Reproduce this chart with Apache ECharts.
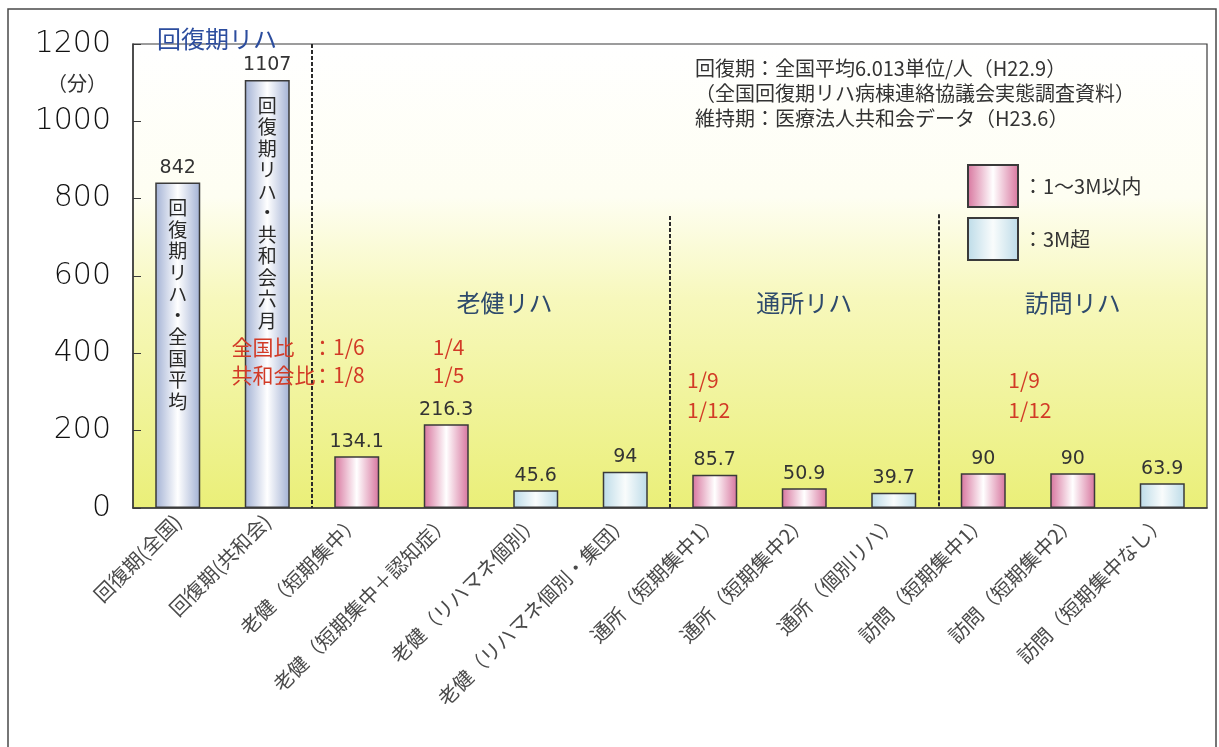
<!DOCTYPE html>
<html>
<head>
<meta charset="utf-8">
<script src="https://cdn.jsdelivr.net/npm/echarts@6/dist/echarts.min.js"></script>
<style>
  html, body { margin: 0; padding: 0; background: #ffffff; }
  #chart { width: 1219px; height: 747px; }
</style>
</head>
<body>
<div id="chart"></div>
<script>
// Rehabilitation minutes per person, by service type
const categories = [
  '回復期(全国)', '回復期(共和会)',
  '老健（短期集中）', '老健（短期集中＋認知症）', '老健（リハマネ個別）', '老健（リハマネ個別・集団）',
  '通所（短期集中1）', '通所（短期集中2）', '通所（個別リハ）',
  '訪問（短期集中1）', '訪問（短期集中2）', '訪問（短期集中なし）'
];
const minutes = [842, 1107, 134.1, 216.3, 45.6, 94, 85.7, 50.9, 39.7, 90, 90, 63.9];
// period group of each bar: recovery ward, within 1-3 months, beyond 3 months
const period = ['kaifuku', 'kaifuku', 'within', 'within', 'over', 'over',
                'within', 'within', 'over', 'within', 'within', 'over'];
const barNotes = ['回復期リハ・全国平均', '回復期リハ・共和会六月'];
const seriesNames = { kaifuku: '回復期リハ', within: '1～3M以内', over: '3M超' };
const yMin = 0, yMax = 1200, yStep = 200;
const groupLabels = ['老健リハ', '通所リハ', '訪問リハ'];
const ratioRows = [
  ['全国比', '：1/6', '1/4', '1/9', '1/9'],
  ['共和会比', '：1/8', '1/5', '1/12', '1/12']
];
const notes = [
  '回復期：全国平均6.013単位/人（H22.9）',
  '（全国回復期リハ病棟連絡協議会実態調査資料）',
  '維持期：医療法人共和会データ（H23.6）'
];

const FONT_JP = '"Noto Sans CJK JP", "Noto Sans", sans-serif';
const FONT_NUM = '"DejaVu Sans", "Noto Sans", sans-serif';

function hGrad(edge, mid) {
  return new echarts.graphic.LinearGradient(0, 0, 1, 0, [
    { offset: 0, color: edge },
    { offset: 0.5, color: mid },
    { offset: 1, color: edge }
  ]);
}
const fills = {
  kaifuku: hGrad('#a2b1d4', '#ffffff'),
  within: hGrad('#d7749d', '#ffffff'),
  over: hGrad('#bcdbe8', '#f9fcfc')
};

function dataFor(key) {
  return minutes.map((v, i) => (period[i] === key ? v : null));
}

const valueLabel = {
  show: true, position: 'top', distance: 5,
  fontFamily: FONT_NUM, fontSize: 19, color: '#333333',
  formatter: p => String(p.value)
};

const barSeries = ['kaifuku', 'within', 'over'].map(key => ({
  name: seriesNames[key],
  type: 'bar',
  barWidth: 45,
  barGap: '-100%',
  data: dataFor(key),
  itemStyle: { color: fills[key], borderColor: '#3a3a3a', borderWidth: 1.5 },
  label: valueLabel,
  emphasis: { disabled: true }
}));

// vertical captions inside the two recovery-ward bars
barSeries.push({
  name: 'notes',
  type: 'bar',
  barWidth: 45,
  barGap: '-100%',
  data: minutes.map((v, i) => (i < barNotes.length ? v : null)),
  itemStyle: { color: 'rgba(0,0,0,0)' },
  label: {
    show: true, position: 'insideTop', distance: 15,
    fontFamily: FONT_JP, fontSize: 19, lineHeight: 21.5, color: '#2a2a2a',
    formatter: p => barNotes[p.dataIndex].split('').join('\n')
  },
  silent: true,
  z: 3
});

// dashed dividers between service groups, drawn on the helper value axis
barSeries.push({
  type: 'scatter',
  xAxisIndex: 1,
  data: [[0, 0]],
  symbolSize: 0,
  silent: true,
  markLine: {
    symbol: 'none',
    silent: true,
    label: { show: false },
    lineStyle: { color: '#2a2a2a', width: 2, type: [4, 2] },
    data: [
      [{ coord: [2, yMax] }, { coord: [2, 0] }],
      [{ coord: [6, 755] }, { coord: [6, 0] }],
      [{ coord: [9, 760] }, { coord: [9, 0] }]
    ]
  }
});

const chart = echarts.init(document.getElementById('chart'));

chart.setOption({
  animation: false,
  backgroundColor: '#ffffff',
  grid: {
    left: 133, right: 12, top: 44, bottom: 239,
    show: true,
    borderColor: '#3a3a3a', borderWidth: 1.2,
    backgroundColor: {
      type: 'linear', x: 0, y: 0, x2: 0, y2: 1,
      colorStops: [
        { offset: 0, color: '#ffffff' },
        { offset: 0.33, color: '#fefef2' },
        { offset: 0.55, color: '#f7f8bc' },
        { offset: 1, color: '#eaef78' }
      ]
    }
  },
  legend: {
    data: [seriesNames.within, seriesNames.over],
    orient: 'vertical',
    left: 967, top: 164,
    padding: 0,
    icon: 'rect',
    itemWidth: 50, itemHeight: 42, itemGap: 9,
    formatter: name => '：' + name,
    textStyle: { fontFamily: FONT_JP, fontSize: 20, color: '#333333' },
    selectedMode: false
  },
  xAxis: [
    {
      type: 'category',
      data: categories,
      axisLine: { lineStyle: { color: '#3a3a3a', width: 1.5 } },
      axisTick: { inside: true, length: 6, lineStyle: { color: '#3a3a3a' } },
      axisLabel: {
        interval: 0, rotate: 45, margin: 10,
        fontFamily: FONT_JP, fontSize: 20, color: '#4a4a4a'
      }
    },
    { type: 'value', min: 0, max: categories.length, show: false }
  ],
  yAxis: {
    type: 'value',
    min: yMin, max: yMax, interval: yStep,
    axisLine: { show: true, lineStyle: { color: '#3a3a3a', width: 1.5 } },
    axisTick: { show: true, inside: true, length: 8, lineStyle: { color: '#3a3a3a' } },
    splitLine: { show: false },
    axisLabel: {
      margin: 22, fontFamily: FONT_NUM, fontSize: 30, fontWeight: 200, color: '#111111',
      formatter: v => String(v)
    }
  },
  series: barSeries
});

// text placed in data space (x in category units, y in minutes)
function at(x, y) {
  return chart.convertToPixel({ xAxisIndex: 1, yAxisIndex: 0 }, [x, y]);
}
function txt(text, pos, opts) {
  return {
    type: 'text',
    x: pos[0], y: pos[1],
    silent: true,
    z: 20,
    style: Object.assign({
      text: text,
      textAlign: 'left',
      textVerticalAlign: 'middle',
      fill: '#333333',
      font: '20px ' + FONT_JP
    }, opts || {})
  };
}

const RED = '#d23a26';
const groupStyle = { textAlign: 'center', fill: '#2e4a6c', font: '24px ' + FONT_JP };
const redStyle = { fill: RED, font: '21px ' + FONT_JP };
const ratioX = [1.1, 2.0, 3.35, 6.19, 9.78];
const ratioY = [[416, 344], [416, 344], [416, 344], [331, 253], [331, 253]];

const elements = [];
// outer frame
elements.push({
  type: 'rect', silent: true, z: 0,
  shape: { x: 8, y: 9, width: 1208, height: 760 },
  style: { fill: 'none', stroke: '#4a4a4a', lineWidth: 1.5 }
});
elements.push(txt('回復期リハ', [157, 39], { fill: '#2c4d9e', font: '24px ' + FONT_JP }));
elements.push(txt('（分）', [77, 83], { textAlign: 'center', font: '20px ' + FONT_JP }));
notes.forEach((n, i) => {
  elements.push(txt(n, [695, 68 + i * 25], { font: '20px ' + FONT_JP }));
});
[4.15, 7.5, 10.5].forEach((gx, i) => {
  elements.push(txt(groupLabels[i], at(gx, 530), groupStyle));
});
ratioRows.forEach((row, r) => {
  row.forEach((t, c) => {
    elements.push(txt(t, at(ratioX[c], ratioY[c][r]), redStyle));
  });
});

chart.setOption({ graphic: { elements: elements } });
</script>
</body>
</html>
